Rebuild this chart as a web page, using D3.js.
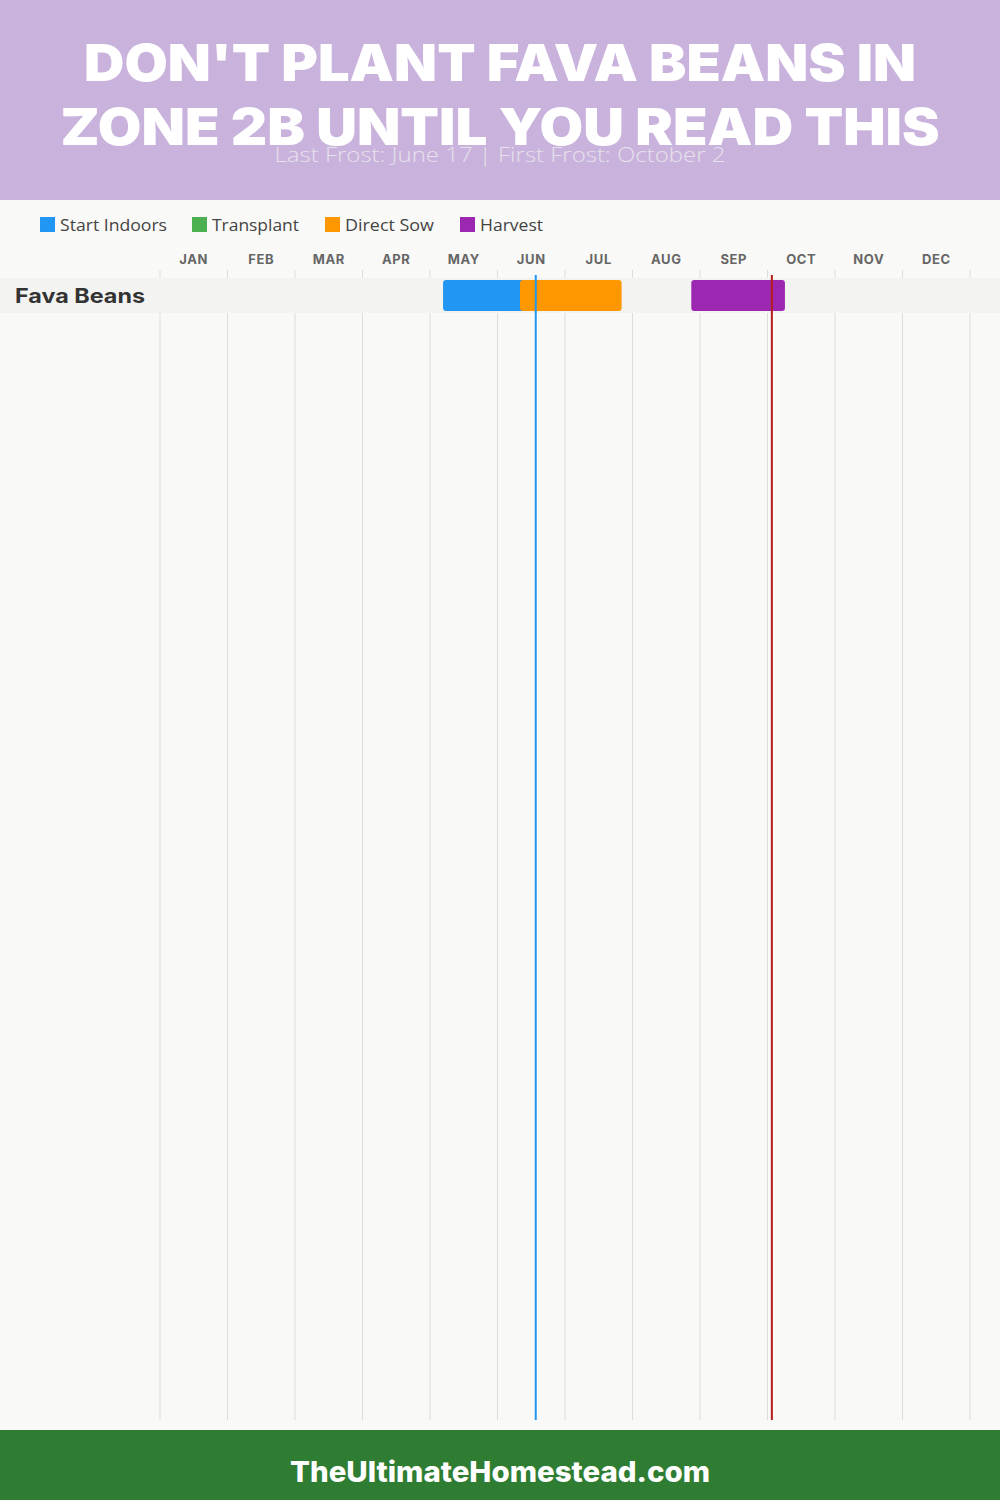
<!DOCTYPE html>
<html><head><meta charset="utf-8">
<script src="https://cdn.jsdelivr.net/npm/d3@7"></script>
<style>html,body{margin:0;padding:0;background:#f9f9f7;}svg{display:block;}</style>
</head><body>
<script>
const titleLines = ["DON'T PLANT FAVA BEANS IN", "ZONE 2B UNTIL YOU READ THIS"];
const subtitle = "Last Frost: June 17 | First Frost: October 2";
const footerText = "TheUltimateHomestead.com";
const months = ["JAN","FEB","MAR","APR","MAY","JUN","JUL","AUG","SEP","OCT","NOV","DEC"];
const legendNames = ["Start Indoors","Transplant","Direct Sow","Harvest"];
const legendColors = ["#2196f3","#4caf50","#ff9800","#9c27b0"];
const crops = ["Fava Beans"];
const phaseCrop = ["Fava Beans","Fava Beans","Fava Beans"];
const phaseName = ["Start Indoors","Direct Sow","Harvest"];
const phaseStart = ["05-06","06-10","08-27"];
const phaseEnd = ["06-12","07-26","10-08"];
const frostNames = ["Last Frost","First Frost"];
const frostDates = ["06-17","10-02"];
const frostColors = ["#2196f3","#b71c1c"];

const W = 1000, H = 1500;
const daysIn = [31,28,31,30,31,30,31,31,30,31,30,31];
const toM = s => { const [m,d] = s.split("-").map(Number); return (m-1) + d/daysIn[m-1]; };

const svg = d3.select("body").append("svg").attr("width", W).attr("height", H);
svg.append("rect").attr("width", W).attr("height", H).attr("fill", "#f9f9f7");

// header
svg.append("rect").attr("width", W).attr("height", 200).attr("fill", "#c9b3dd");
const tw = [832, 879];
titleLines.forEach((t,i) => {
  svg.append("text").attr("x", 500).attr("y", 81 + i*64).attr("text-anchor","middle")
    .attr("fill","#fff").attr("font-family","Inter, 'Open Sans', sans-serif").attr("font-weight",900)
    .attr("font-size", 51).attr("textLength", tw[i]).attr("lengthAdjust","spacingAndGlyphs").text(t);
});
svg.append("text").attr("x",500).attr("y",162).attr("text-anchor","middle")
  .attr("fill","#e6e1ea").attr("font-family","'Open Sans', sans-serif").attr("font-weight",300)
  .attr("font-size",21).attr("textLength",451).attr("lengthAdjust","spacingAndGlyphs").text(subtitle);

// legend
const legX = [40,192,325,460];
const legW = [107,87,89,63];
legendNames.forEach((n,i) => {
  svg.append("rect").attr("x",legX[i]).attr("y",217).attr("width",15).attr("height",15).attr("fill",legendColors[i]);
  svg.append("text").attr("x",legX[i]+20).attr("y",230.5).attr("fill","#444")
    .attr("font-family","'Open Sans', sans-serif").attr("font-size",16)
    .attr("textLength",legW[i]).attr("lengthAdjust","spacingAndGlyphs").text(n);
});

// scales
const x = d3.scaleLinear().domain([0,12]).range([160,970]);
const y = d3.scaleBand().domain(crops).range([278, 313]);
const colorOf = d3.scaleOrdinal().domain(legendNames).range(legendColors);

// gridlines
svg.append("g").selectAll("line").data(d3.range(0,13)).join("line")
  .attr("x1", d=>x(d)).attr("x2", d=>x(d)).attr("y1",270).attr("y2",1420)
  .attr("stroke","#dddddd").attr("stroke-width",1);

// month labels
svg.append("g").selectAll("text").data(months).join("text")
  .attr("x",(d,i)=>x(i+0.5)).attr("y",264).attr("text-anchor","middle")
  .attr("fill","#666").attr("font-family","Inter, sans-serif").attr("font-weight",700)
  .attr("font-size",13).attr("letter-spacing",0.6).text(d=>d);

// row band
svg.append("g").selectAll("rect").data(crops).join("rect")
  .attr("x",0).attr("y",d=>y(d)).attr("width",W).attr("height",y.bandwidth()).attr("fill","#f3f3f2");
svg.append("g").selectAll("text").data(crops).join("text")
  .attr("x",15).attr("y",d=>y(d)+y.bandwidth()/2+7).attr("fill","#333")
  .attr("font-family","Inter, sans-serif").attr("font-weight",700).attr("font-size",20)
  .attr("textLength",130).attr("lengthAdjust","spacingAndGlyphs").text(d=>d);

// bars
const phases = phaseName.map((p,i)=>({crop:phaseCrop[i],name:p,s:toM(phaseStart[i]),e:toM(phaseEnd[i])}));
svg.append("g").selectAll("rect").data(phases).join("rect")
  .attr("x",d=>x(d.s)).attr("width",d=>x(d.e)-x(d.s))
  .attr("y",d=>y(d.crop)+2).attr("height",y.bandwidth()-4).attr("rx",3)
  .attr("fill",d=>colorOf(d.name));

// frost lines
svg.append("g").selectAll("line").data(frostDates).join("line")
  .attr("x1",d=>x(toM(d))).attr("x2",d=>x(toM(d))).attr("y1",275).attr("y2",1420)
  .attr("stroke",(d,i)=>frostColors[i]).attr("stroke-width",2);

// footer
svg.append("rect").attr("y",1430).attr("width",W).attr("height",70).attr("fill","#2e7d32");
svg.append("text").attr("x",500).attr("y",1482).attr("text-anchor","middle").attr("fill","#fff")
  .attr("font-family","Inter, sans-serif").attr("font-weight",800).attr("font-size",28)
  .attr("textLength",420).attr("lengthAdjust","spacingAndGlyphs").text(footerText);
</script>
</body></html>
